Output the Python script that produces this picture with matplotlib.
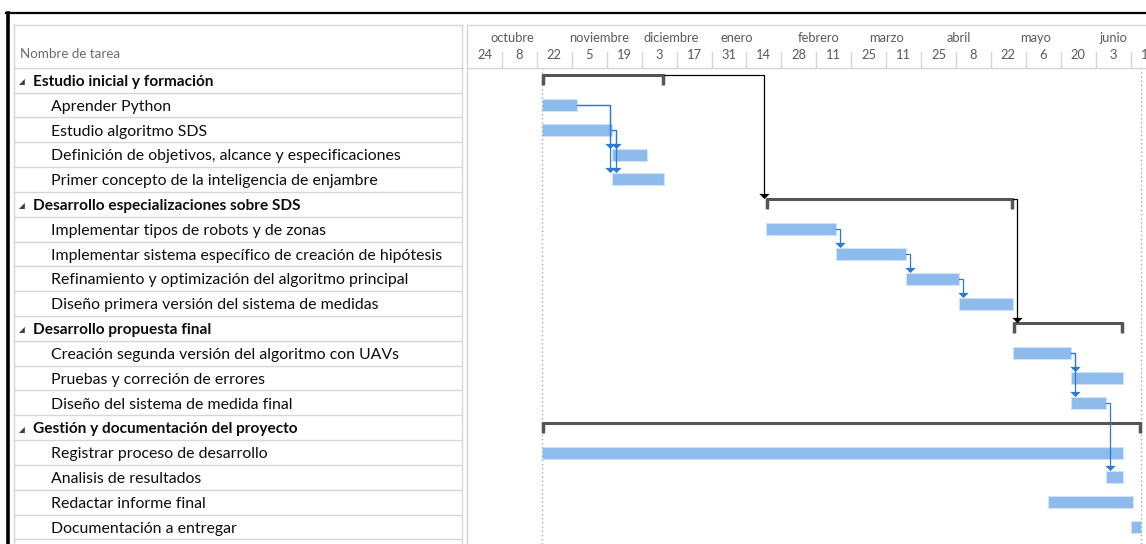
import datetime as dt
import matplotlib
matplotlib.use('Agg')
import matplotlib.pyplot as plt
import matplotlib.dates as mdates
from matplotlib.lines import Line2D

plt.rcParams['font.family'] = ['Lato', 'DejaVu Sans']

# --- datos del diagrama de Gantt ---
tareas = [
    'Estudio inicial y formación',
    'Aprender Python',
    'Estudio algoritmo SDS',
    'Definición de objetivos, alcance y especificaciones',
    'Primer concepto de la inteligencia de enjambre',
    'Desarrollo especializaciones sobre SDS',
    'Implementar tipos de robots y de zonas',
    'Implementar sistema específico de creación de hipótesis',
    'Refinamiento y optimización del algoritmo principal',
    'Diseño primera versión del sistema de medidas',
    'Desarrollo propuesta final',
    'Creación segunda versión del algoritmo con UAVs',
    'Pruebas y correción de errores',
    'Diseño del sistema de medida final',
    'Gestión y documentación del proyecto',
    'Registrar proceso de desarrollo',
    'Analisis de resultados',
    'Redactar informe final',
    'Documentación a entregar',
]
resumen = [True, False, False, False, False,
           True, False, False, False, False,
           True, False, False, False,
           True, False, False, False, False]
inicio = [None, '2017-10-24', '2017-10-24', '2017-11-21', '2017-11-21',
          None, '2018-01-22', '2018-02-19', '2018-03-19', '2018-04-09',
          None, '2018-05-01', '2018-05-24', '2018-05-24',
          None, '2017-10-24', '2018-06-07', '2018-05-15', '2018-06-17']
fin = [None, '2017-11-07', '2017-11-21', '2017-12-05', '2017-12-12',
       None, '2018-02-19', '2018-03-19', '2018-04-09', '2018-05-01',
       None, '2018-05-24', '2018-06-14', '2018-06-07',
       None, '2018-06-14', '2018-06-14', '2018-06-18', '2018-06-21']
dependencias = [(1, 3), (1, 4), (2, 3), (2, 4), (6, 7), (7, 8), (8, 9),
                (11, 12), (11, 13), (13, 16)]
dependencias_resumen = [(0, 5), (5, 10)]

escala_inicio = '2017-09-24'
meses = ['octubre', 'noviembre', 'diciembre', 'enero', 'febrero',
         'marzo', 'abril', 'mayo', 'junio']
meses_fecha = ['2017-10-12', '2017-11-16', '2017-12-15', '2018-01-10',
               '2018-02-12', '2018-03-11', '2018-04-09', '2018-05-10',
               '2018-06-10']


def num(s):
    return mdates.date2num(dt.datetime.strptime(s, '%Y-%m-%d'))


n = len(tareas)
ini = [num(s) if s else None for s in inicio]
fi = [num(s) if s else None for s in fin]
# las tareas resumen abarcan a sus subtareas
for i in range(n):
    if resumen[i]:
        j = i + 1
        hijos = []
        while j < n and not resumen[j]:
            hijos.append(j)
            j += 1
        ini[i] = min(ini[k] for k in hijos)
        fi[i] = max(fi[k] for k in hijos)

W, H = 1146, 544
fila = 24.83
y_cab0, y_cab1 = 25, 67.7
x_tab0, x_tab1, x_g0 = 14, 462, 467
px_dia = 2.495

fig = plt.figure(figsize=(W / 100, H / 100), dpi=100)
gris = '#d6d6d6'

alto = (H - y_cab1) / H
ylim = (-0.5 + (H - y_cab1) / fila, -0.5)
x0 = num(escala_inicio)
xlim = (x0, x0 + (W - x_g0) / px_dia)

ax_t = fig.add_axes([x_tab0 / W, 0, (x_tab1 - x_tab0) / W, alto])
ax_g = fig.add_axes([x_g0 / W, 0, (W - x_g0) / W, alto])
ax_th = fig.add_axes([x_tab0 / W, 1 - y_cab1 / H, (x_tab1 - x_tab0) / W, (y_cab1 - y_cab0) / H])
ax_h = fig.add_axes([x_g0 / W, 1 - y_cab1 / H, (W - x_g0) / W, (y_cab1 - y_cab0) / H])

for ax in (ax_t, ax_g, ax_th, ax_h):
    ax.set_xticks([])
    ax.set_yticks([])
    for sp in ax.spines.values():
        sp.set_color(gris)
        sp.set_linewidth(1)
ax_t.spines['bottom'].set_visible(False)
ax_t.spines['top'].set_visible(False)
ax_g.spines['bottom'].set_visible(False)
ax_g.spines['top'].set_visible(False)
ax_g.spines['right'].set_visible(False)
ax_h.spines['right'].set_visible(False)

# --- tabla de nombres ---
ax_t.set_xlim(0, x_tab1 - x_tab0)
ax_t.set_ylim(*ylim)
for i, nombre in enumerate(tareas):
    ax_t.axhline(i + 0.5, color=gris, lw=1)
    if resumen[i]:
        ax_t.text(8, i + 0.06, '◢', fontsize=5.5, color='#404040', va='center', ha='center',
                  family=['DejaVu Sans'])
        ax_t.text(19, i + 0.07, nombre, fontsize=11.1, fontweight='bold', color='#0d0d0d',
                  va='center', ha='left')
    else:
        ax_t.text(37, i + 0.07, nombre, fontsize=11.4, color='#0d0d0d', va='center', ha='left')

ax_th.set_xlim(0, x_tab1 - x_tab0)
ax_th.set_ylim(1, 0)
ax_th.text(6, 0.68, 'Nombre de tarea', fontsize=9.6, color='#6b6b6b', va='center', ha='left')

# --- cabecera de escala temporal ---
ax_h.set_xlim(*xlim)
ax_h.set_ylim(1, 0)
t = x0
while t < xlim[1]:
    if t > x0:
        ax_h.plot([t, t], [0.63, 1.0], color=gris, lw=1)
    d = mdates.num2date(t)
    ax_h.text(t + 7, 0.7, str(d.day), fontsize=9.3, color='#5a5a5a', ha='center', va='center')
    t += 14
for m, f in zip(meses, meses_fecha):
    ax_h.text(num(f), 0.31, m, fontsize=9.3, color='#5a5a5a', ha='center', va='center')

# --- diagrama ---
ax_g.set_xlim(*xlim)
ax_g.set_ylim(*ylim)
ax_g.axvline(min(ini), color='#a8a8a8', ls=(0, (1, 2)), lw=1)
ax_g.axvline(max(fi), color='#a8a8a8', ls=(0, (1, 2)), lw=1)

azul_barra = '#8dbbec'
azul_linea = '#2b7bd6'
gris_resumen = '#555555'

for i in range(n):
    if resumen[i]:
        ax_g.plot([ini[i], fi[i]], [i - 0.2, i - 0.2], color=gris_resumen, lw=2.2,
                  solid_capstyle='butt')
        for xe in (ini[i] + 0.4, fi[i] - 0.4):
            ax_g.plot([xe, xe], [i - 0.24, i + 0.2], color=gris_resumen, lw=2.5,
                      solid_capstyle='butt')
    else:
        ax_g.barh(i, fi[i] - ini[i], left=ini[i], height=0.48, color=azul_barra,
                  edgecolor='#cfe2f7', lw=0.8)

flecha = [(-1, 0.5), (1, 0.5), (0, -0.5)]


def dibujar_dep(p, s, color, y_origen):
    xv = max(fi[p] + 1.6, ini[s] - 0.8)
    y_fin = s - 0.24 - 0.2 if not resumen[s] else s - 0.22 - 0.2
    ax_g.plot([fi[p], xv, xv], [y_origen, y_origen, y_fin], color=color, lw=0.9)
    ax_g.plot([xv], [y_fin + 0.08], marker=flecha, ms=7.5, color=color, mew=0)


for p, s in dependencias:
    dibujar_dep(p, s, azul_linea, p)
for p, s in dependencias_resumen:
    dibujar_dep(p, s, 'black', p - 0.2)

# --- marco negro ---
fig.add_artist(Line2D([8 / W, 8 / W], [0, 1 - 12.5 / H], color='black', lw=2.6))
fig.add_artist(Line2D([6 / W, 1], [1 - 12.5 / H, 1 - 12.5 / H], color='black', lw=1.6))

fig.savefig('out.png', dpi=100)
